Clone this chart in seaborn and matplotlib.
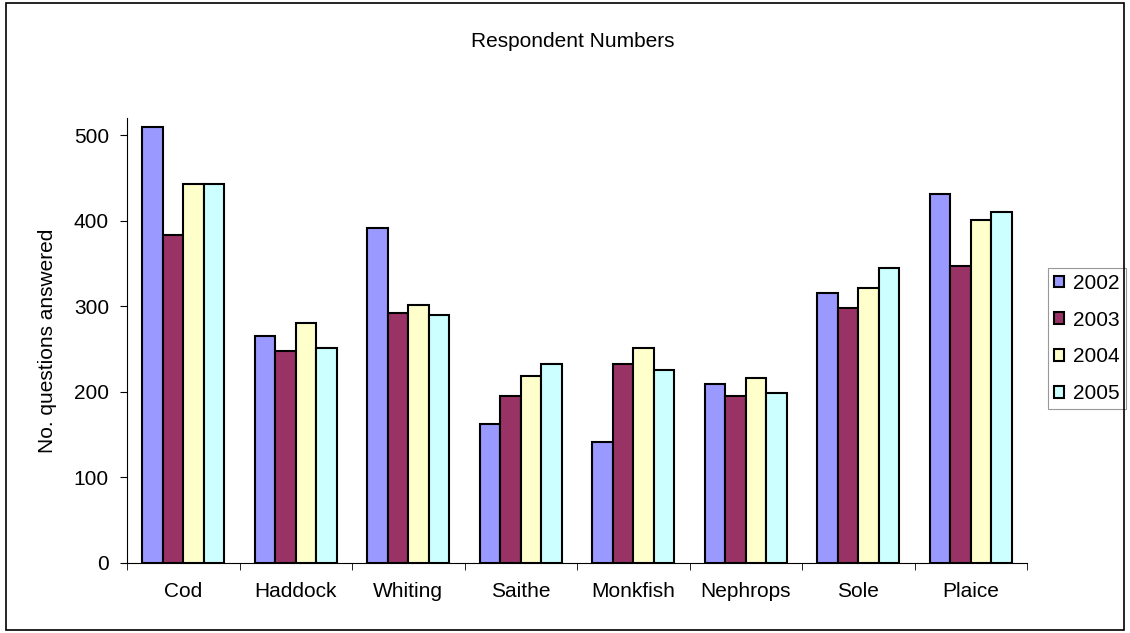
import numpy as np
import pandas as pd
import matplotlib
matplotlib.use('Agg')
import matplotlib.pyplot as plt
import seaborn as sns
from matplotlib.patches import Rectangle

# Species and survey years
species = ['Cod', 'Haddock', 'Whiting', 'Saithe', 'Monkfish', 'Nephrops', 'Sole', 'Plaice']
years = ['2002', '2003', '2004', '2005']

# Respondent numbers per year
y2002 = [509, 265, 391, 162, 141, 209, 316, 431]
y2003 = [383, 248, 292, 195, 232, 195, 298, 347]
y2004 = [443, 281, 302, 218, 251, 216, 321, 401]
y2005 = [443, 251, 290, 232, 225, 199, 345, 410]

colors = ['#9999FF', '#993366', '#FFFFCC', '#CCFFFF']

df = pd.DataFrame({
    'species': species * 4,
    'year': np.repeat(years, len(species)),
    'value': y2002 + y2003 + y2004 + y2005,
})

sns.set_style('white')
plt.rcParams['font.family'] = ['Liberation Sans', 'DejaVu Sans']
plt.rcParams['text.color'] = 'black'
plt.rcParams['axes.labelcolor'] = 'black'
plt.rcParams['xtick.color'] = 'black'
plt.rcParams['ytick.color'] = 'black'

fig = plt.figure(figsize=(11.3, 6.33), dpi=100)
ax = fig.add_axes([0.1124, 0.1106, 0.7965, 0.703])

sns.barplot(data=df, x='species', y='value', hue='year', order=species,
            hue_order=years, palette=colors, width=0.73, gap=0,
            edgecolor='black', linewidth=1.5, saturation=1, ax=ax)

ax.set_ylim(0, 520)
ax.set_xlim(-0.5, len(species) - 0.5)
ax.set_yticks([0, 100, 200, 300, 400, 500])
ax.set_xlabel('')
ax.set_ylabel('')
fig.text(0.042, 0.461, 'No. questions answered', rotation=90,
         ha='center', va='center', fontsize=15)
ax.tick_params(axis='y', labelsize=15, length=5, direction='out', left=True, pad=8)
ax.tick_params(axis='x', labelsize=15, length=0, pad=14)
ax.set_xticks(np.arange(-0.5, len(species)), minor=True)
ax.tick_params(axis='x', which='minor', length=5, direction='out', bottom=True)

for side in ['top', 'right']:
    ax.spines[side].set_visible(False)
for side in ['left', 'bottom']:
    ax.spines[side].set_color('black')
    ax.spines[side].set_linewidth(0.8)

fig.text(0.507, 0.935, 'Respondent Numbers', ha='center', va='center', fontsize=15)

leg = ax.legend(loc='center left', bbox_to_anchor=(1.023, 0.5045), frameon=True,
                fontsize=15, handlelength=0.5, handleheight=0.5,
                labelspacing=0.85, borderpad=0.3, handletextpad=0.4,
                fancybox=False, borderaxespad=0)
leg.get_frame().set_edgecolor('#808080')
leg.get_frame().set_linewidth(0.8)

fig.patches.append(Rectangle((0.005, 0.005), 0.99, 0.99, transform=fig.transFigure,
                             fill=False, edgecolor='black', linewidth=1.2))

fig.savefig('out.png', dpi=100)
plt.close()
